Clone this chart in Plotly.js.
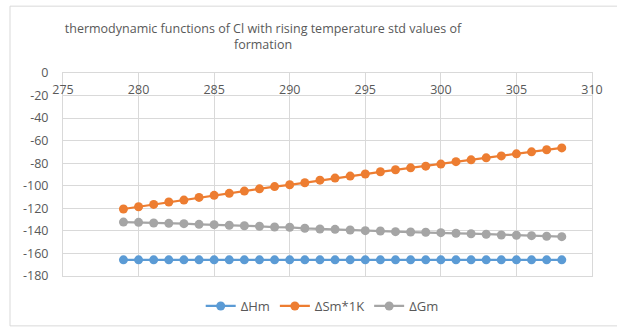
<!DOCTYPE html>
<html>
<head>
<meta charset="utf-8">
<script src="https://cdn.plot.ly/plotly-3.0.1.min.js"></script>
<style>html,body{margin:0;padding:0;background:#fff;}#chart{width:617px;height:328px;}</style>
</head>
<body>
<div id="chart"></div>
<script>
const temperatures = [279,280,281,282,283,284,285,286,287,288,289,290,291,292,293,294,295,296,297,298,299,300,301,302,303,304,305,306,307,308];
const deltaHm = [-165.7,-165.7,-165.7,-165.7,-165.7,-165.7,-165.7,-165.7,-165.7,-165.7,-165.7,-165.7,-165.7,-165.7,-165.7,-165.7,-165.7,-165.7,-165.7,-165.7,-165.7,-165.7,-165.7,-165.7,-165.7,-165.7,-165.7,-165.7,-165.7,-165.7];
const deltaSm1K = [-120.6,-118.6,-116.5,-114.4,-112.7,-110.3,-108.5,-106.7,-104.7,-102.7,-100.7,-99.1,-97.3,-95.0,-93.2,-91.4,-89.6,-87.6,-85.8,-84.1,-82.6,-80.8,-78.6,-77.0,-75.2,-73.5,-71.7,-69.9,-68.1,-66.4];
const deltaGm = [-132.2,-132.4,-133.0,-133.3,-133.6,-134.2,-134.5,-135.0,-135.4,-135.9,-136.6,-136.8,-137.7,-138.3,-138.6,-139.2,-139.8,-140.1,-140.7,-141.0,-141.2,-141.6,-142.1,-142.5,-143.0,-143.6,-143.9,-144.2,-144.8,-145.1];
const seriesNames = ['ΔHm','ΔSm*1K','ΔGm'];
const titleText = 'thermodynamic functions of Cl with rising temperature std values of<br>formation';
const xTickVals = [275,280,285,290,295,300,305,310];
const xTickText = ['275','280','285','290','295','300','305','310'];
const yTickVals = [0,-20,-40,-60,-80,-100,-120,-140,-160,-180];
const yTickText = ['0','-20','-40','-60','-80','-100','-120','-140','-160','-180'];

const colors = ['#5B9BD5','#ED7D31','#A5A5A5'];
const values = [deltaHm, deltaSm1K, deltaGm];
const traces = values.map((v,i)=>({
  x: temperatures, y: v, name: seriesNames[i], type:'scatter', mode:'lines+markers',
  line:{color:colors[i], width:2.25},
  marker:{color:colors[i], size:9, symbol:'circle'}
}));

const font = 'Open Sans, Liberation Sans, sans-serif';
const layout = {
  width:617, height:328,
  margin:{l:63, r:25, t:73, b:51.5, autoexpand:false},
  paper_bgcolor:'#fff', plot_bgcolor:'#fff',
  font:{family:font, color:'#595959', size:12},
  title:{text:titleText, font:{family:font, size:12.5, color:'#595959'}, x:263/617, xanchor:'center', xref:'container', y:0.9, yanchor:'top', yref:'container'},
  xaxis:{range:[275,310], tickmode:'array', tickvals:xTickVals, ticktext:xTickText, side:'top',
    ticklabelposition:'inside', ticklabeloverflow:'allow', ticks:'inside', ticklen:12, tickcolor:'rgba(0,0,0,0)',
    showgrid:true, gridcolor:'#d9d9d9', gridwidth:1, zeroline:false, automargin:false,
    showline:true, linecolor:'#d9d9d9', mirror:true, tickfont:{size:12.5, color:'#595959'}},
  yaxis:{range:[-180,0], tickmode:'array', tickvals:yTickVals, ticktext:yTickText,
    showgrid:true, gridcolor:'#d9d9d9', zeroline:false, automargin:false,
    showline:true, linecolor:'#d9d9d9', mirror:true, ticks:'outside', ticklen:11, tickcolor:'rgba(0,0,0,0)',
    tickfont:{size:12.5, color:'#595959'}},
  legend:{orientation:'h', x:0.49, xanchor:'center', yref:'container', y:1-306/328, yanchor:'middle', itemwidth:30, font:{size:13, color:'#595959'}},
  showlegend:true,
  shapes:[{type:'rect', xref:'paper', yref:'paper', x0:(10-63)/529, x1:(630-63)/529, y0:-(326.5-276.5)/203.5, y1:1+(73-6)/203.5, line:{color:'#d9d9d9', width:1}, fillcolor:'rgba(0,0,0,0)', layer:'below'}]
};
Plotly.newPlot('chart', traces, layout, {displayModeBar:false, staticPlot:true});
</script>
</body>
</html>
